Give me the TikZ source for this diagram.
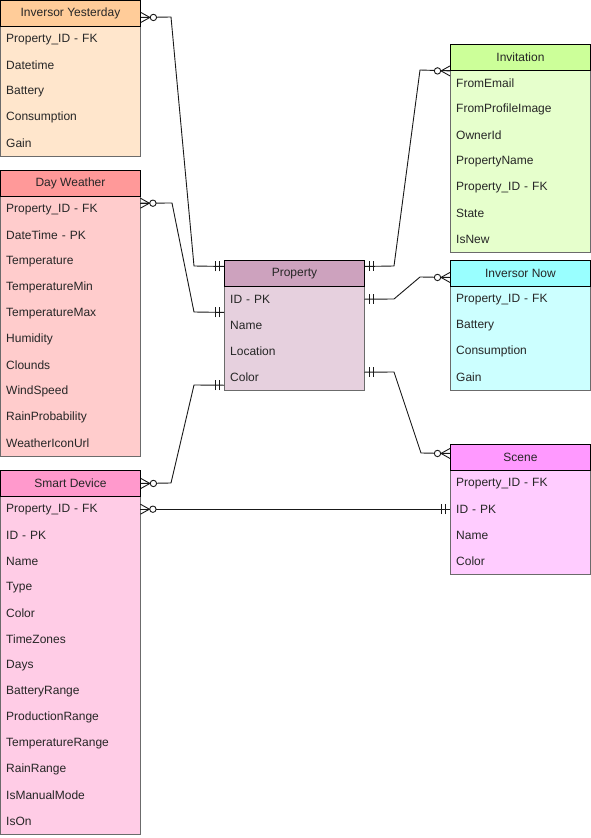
\documentclass[tikz,border=0pt]{standalone}
\usepackage{fontspec}
\setmainfont{Liberation Sans}
\usetikzlibrary{calc}

% entity colours (header / body)
\definecolor{iyH}{HTML}{FFCC99}\definecolor{iyB}{HTML}{FFE6CC}
\definecolor{dwH}{HTML}{FF9999}\definecolor{dwB}{HTML}{FFCCCC}
\definecolor{sdH}{HTML}{FF99CC}\definecolor{sdB}{HTML}{FFCCE6}
\definecolor{prH}{HTML}{CDA2BE}\definecolor{prB}{HTML}{E6D0DE}
\definecolor{inH}{HTML}{CCFF99}\definecolor{inB}{HTML}{E6FFCC}
\definecolor{nwH}{HTML}{99FFFF}\definecolor{nwB}{HTML}{CCFFFF}
\definecolor{scH}{HTML}{FF99FF}\definecolor{scB}{HTML}{FFCCFF}
\definecolor{txt}{HTML}{262626}
\definecolor{edge}{HTML}{6B6B6B}

\tikzset{
  erfont/.style={font=\fontsize{12}{14}\selectfont, text=txt},
  hdr/.style={erfont, draw=black, line width=0.9pt, minimum width=140pt, minimum height=26pt,
    inner sep=0pt, anchor=north west},
  rowcell/.style={erfont, minimum width=140pt, minimum height=26pt, inner ysep=0pt,
    inner xsep=6pt, text width=128pt, align=left, anchor=north west},
  sep/.style={draw=white, line width=0.8pt, opacity=0.7},
  frame/.style={draw=edge, line width=0.9pt},
  link/.style={draw=black!90, line width=0.9pt},
  pen/.style={draw=black!90, line width=0.9pt},
  zmany/.pic={
    \draw[pen] (0,-5) -- (9,0) -- (0,5);
    \draw[pen] (0,0) -- (9,0);
    \draw[pen, fill=white] (12.5,0) circle (3.2);
  },
  mone/.pic={
    \draw[pen] (5,-5) -- (5,5) (9,-5) -- (9,5);
  }
}

% #1 name, #2 x, #3 y, #4 header colour, #5 body colour, #6 title, #7 rows, #8 row count
\newcommand{\ertable}[8]{%
  \foreach \r [count=\i] in {#7} {
    \node[rowcell, fill=#5] (#1-\i) at (#2, #3+26*\i) {\r};
    \draw[sep] (#1-\i.south west) -- (#1-\i.south east);
  }
  \draw[frame] (#2, #3+26) rectangle (#2+140, #3+26+26*#8);
  \node[hdr, fill=#4] (#1) at (#2,#3) {#6};
}

\begin{document}
\begin{tikzpicture}[x=1pt, y=-1pt]
\useasboundingbox (0,0) rectangle (591,838);

\ertable{iy}{0}{0}{iyH}{iyB}{Inversor Yesterday}
  {Property\_ID - FK, Datetime, Battery, Consumption, Gain}{5}
\ertable{dw}{0}{170}{dwH}{dwB}{Day Weather}
  {Property\_ID - FK, DateTime - PK, Temperature, TemperatureMin, TemperatureMax,
   Humidity, Clounds, WindSpeed, RainProbability, WeatherIconUrl}{10}
\ertable{sd}{0}{470}{sdH}{sdB}{Smart Device}
  {Property\_ID - FK, ID - PK, Name, Type, Color, TimeZones, Days, BatteryRange,
   ProductionRange, TemperatureRange, RainRange, IsManualMode, IsOn}{13}
\ertable{pr}{224}{260}{prH}{prB}{Property}
  {ID - PK, Name, Location, Color}{4}
\ertable{inv}{450}{44}{inH}{inB}{Invitation}
  {FromEmail, FromProfileImage, OwnerId, PropertyName, Property\_ID - FK, State, IsNew}{7}
\ertable{nw}{450}{260}{nwH}{nwB}{Inversor Now}
  {Property\_ID - FK, Battery, Consumption, Gain}{4}
\ertable{sc}{450}{444}{scH}{scB}{Scene}
  {Property\_ID - FK, ID - PK, Name, Color}{4}

% connector end points on the entity borders
\coordinate (iyOut)  at ([yshift=-4pt]iy.east);
\coordinate (dwOut)  at ([yshift=6pt]dw-1.east);
\coordinate (sdOut)  at (sd.east);
\coordinate (sdFk)   at (sd-1.east);
\coordinate (prInA)  at ([yshift=7pt]pr.west);
\coordinate (prInB)  at (pr-1.south west);
\coordinate (prInC)  at ([yshift=-8pt]pr-4.west);
\coordinate (prOutA) at ([yshift=7pt]pr.east);
\coordinate (prOutB) at (pr-1.east);
\coordinate (prOutC) at ([yshift=5pt]pr-4.east);
\coordinate (invIn)  at (inv.south east -| inv.west);
\coordinate (nwIn)   at ([yshift=-4pt]nw.west);
\coordinate (scIn)   at ([yshift=4pt]sc.west);
\coordinate (scPk)   at (sc-2.west);

% relationships
\draw[link] (iyOut) -- (171,17) -- (194,266) -- (prInA);
\draw[link] (dwOut) -- (172,203) -- (194,312) -- (prInB);
\draw[link] (sdOut) -- (171,483) -- (194,385) -- (prInC);
\draw[link] (sdFk) -- (scPk);
\draw[link] (prOutA) -- (394,266) -- (420,70) -- (invIn);
\draw[link] (prOutB) -- (394,299) -- (420,277) -- (nwIn);
\draw[link] (prOutC) -- (394,372) -- (421,453) -- (scIn);

% cardinality marks
\pic at (iyOut) {zmany};
\pic at (dwOut) {zmany};
\pic at (sdOut) {zmany};
\pic at (sdFk) {zmany};
\pic[rotate=180] at (invIn) {zmany};
\pic[rotate=180] at (nwIn) {zmany};
\pic[rotate=180] at (scIn) {zmany};
\pic[rotate=180] at (prInA) {mone};
\pic[rotate=180] at (prInB) {mone};
\pic[rotate=180] at (prInC) {mone};
\pic at (prOutA) {mone};
\pic at (prOutB) {mone};
\pic at (prOutC) {mone};
\pic[rotate=180] at (scPk) {mone};
\end{tikzpicture}
\end{document}
